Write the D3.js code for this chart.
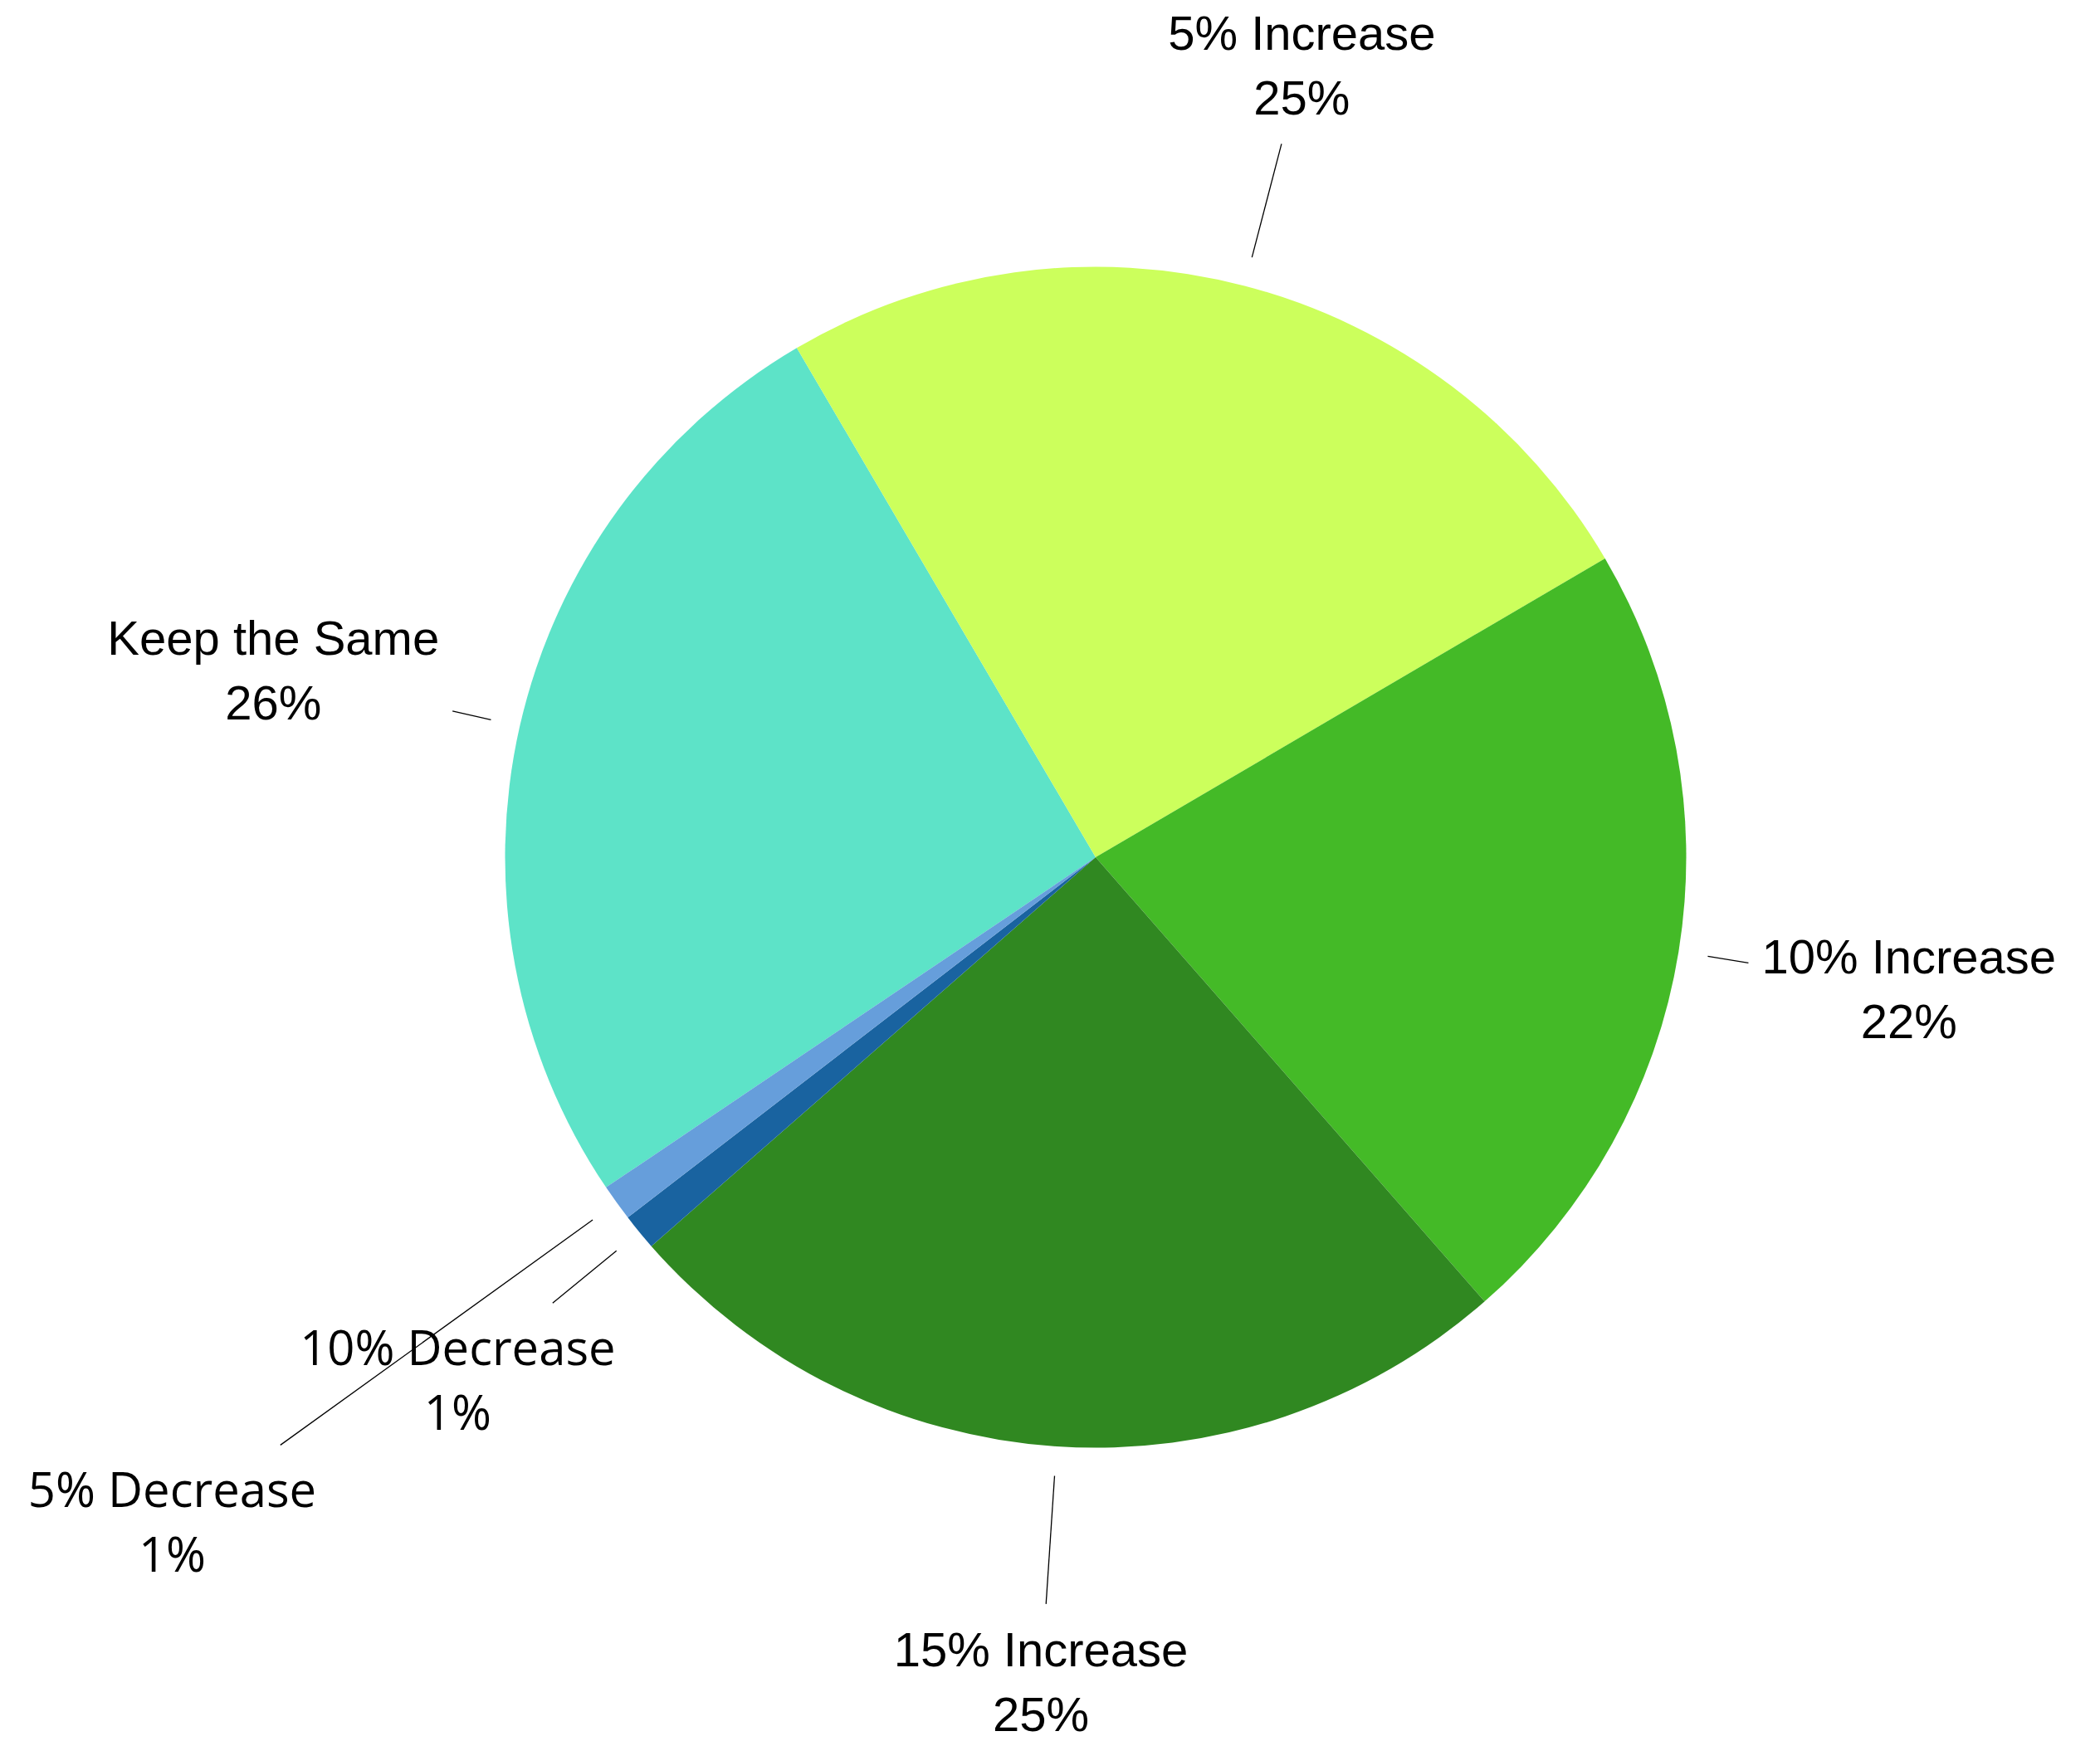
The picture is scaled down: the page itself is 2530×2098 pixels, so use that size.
<!DOCTYPE html>
<html><head><meta charset="utf-8">
<script src="https://cdn.jsdelivr.net/npm/d3@7"></script>
<style>html,body{margin:0;padding:0;background:#fff}</style>
</head><body>
<svg id="chart" width="2530" height="2098"></svg>
<script>
// ---- data ----
const categories = ["Keep the Same", "5% Increase", "10% Increase", "15% Increase", "10% Decrease", "5% Decrease"];
const values = [26, 25, 22, 25, 1, 1];

// ---- styles / layout ----
const colors = ["#5DE3C8", "#CCFF5C", "#44BA27", "#308821", "#1963A0", "#669EDB"];
const labelFonts = ["Liberation Sans", "Liberation Sans", "Liberation Sans", "Liberation Sans", "Open Sans", "Open Sans"];
const labelRadiusFactor = [1.428, 1.385, 1.395, 1.40, 1.398, 1.398];

const W = 2530, H = 2098;
const cx = 1320, cy = 1033, R = 711.5;
const fontSize = 58, lineGap = 39, pad = 16, margin = 15;
const startDeg = -124;

const svg = d3.select("#chart");
const g = svg.append("g").attr("transform", `translate(${cx},${cy})`);

const total = d3.sum(values);
const rows = categories.map((c, i) => ({ cat: c, value: values[i], color: colors[i], font: labelFonts[i], rf: labelRadiusFactor[i] }));

const pie = d3.pie().sort(null).value(d => d.value)
  .startAngle(startDeg * Math.PI / 180)
  .endAngle(startDeg * Math.PI / 180 + 2 * Math.PI);
const arcs = pie(rows);
const arc = d3.arc().innerRadius(0).outerRadius(R);

g.selectAll("path.slice").data(arcs).enter().append("path")
  .attr("class", "slice")
  .attr("d", arc)
  .attr("fill", d => d.data.color);

const fmt = v => Math.round(v / total * 100) + "%";

// labels
const placed = [];
const lineG = g.append("g");
const labG = g.append("g");

arcs.forEach(a => {
  const mid = (a.startAngle + a.endAngle) / 2;
  const dx = Math.sin(mid), dy = -Math.cos(mid);
  const t = labG.append("text")
    .attr("text-anchor", "middle")
    .attr("font-family", a.data.font)
    .attr("font-size", fontSize)
    .attr("fill", "#000");
  const t1 = t.append("tspan").attr("x", 0).text(a.data.cat);
  const t2 = t.append("tspan").attr("x", 0).text(fmt(a.data.value));
  const w = Math.max(t1.node().getComputedTextLength(), t2.node().getComputedTextLength());
  const hh = lineGap * 2;
  let r = R * a.data.rf;
  const boxAt = rr => {
    const x = dx * rr, y = dy * rr;
    return { x0: x - w / 2, x1: x + w / 2, y0: y - hh, y1: y + hh, x, y };
  };
  let b = boxAt(r);
  const hit = bb => placed.some(p => !(bb.x1 + margin <= p.x0 || bb.x0 - margin >= p.x1 || bb.y1 + margin <= p.y0 || bb.y0 - margin >= p.y1));
  let guard = 0;
  while (hit(b) && guard < 2000) { r += 1; b = boxAt(r); guard++; }
  placed.push(b);
  t.attr("transform", `translate(${b.x},${b.y})`);
  t1.attr("y", -lineGap + 20);
  t2.attr("y", lineGap + 20);
  const tt = Math.min((w / 2 + pad) / Math.abs(dx || 1e-9), (hh + pad) / Math.abs(dy || 1e-9));
  const rEnd = r - tt;
  const rStart = R * 1.05;
  lineG.append("line")
    .attr("x1", dx * rStart).attr("y1", dy * rStart)
    .attr("x2", dx * rEnd).attr("y2", dy * rEnd)
    .attr("stroke", "#000").attr("stroke-width", 1.3);
});
</script>
</body></html>
